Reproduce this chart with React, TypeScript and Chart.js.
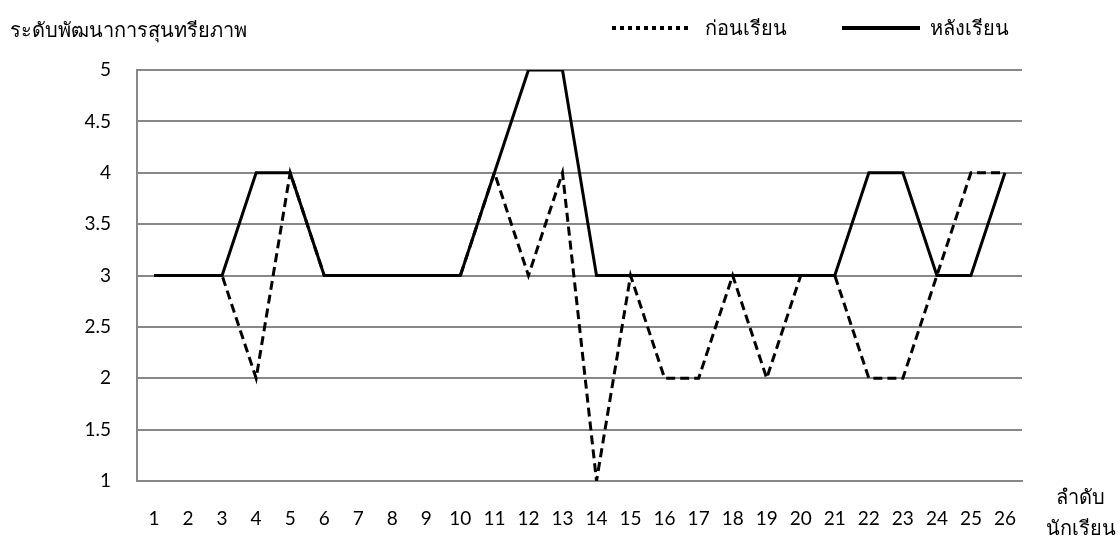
import React, { useEffect, useRef } from "react";
import { Chart, registerables } from "chart.js";

Chart.register(...registerables);

const students = ["1","2","3","4","5","6","7","8","9","10","11","12","13","14","15","16","17","18","19","20","21","22","23","24","25","26"];
const before = [3,3,3,2,4,3,3,3,3,3,4,3,4,1,3,2,2,3,2,3,3,2,2,3,4,4];
const after = [3,3,3,4,4,3,3,3,3,3,4,5,5,3,3,3,3,3,3,3,3,4,4,3,3,4];
const yTicks = [1,1.5,2,2.5,3,3.5,4,4.5,5];

const yTitle = "ระดับพัฒนาการสุนทรียภาพ";
const xTitle1 = "ลำดับ";
const xTitle2 = "นักเรียน";
const legendBefore = "ก่อนเรียน";
const legendAfter = "หลังเรียน";

const numFont = "Lato, 'Open Sans', sans-serif";
const thaiFont = "'Noto Sans', 'DejaVu Sans', sans-serif";

export default function App() {
  const ref = useRef<HTMLCanvasElement>(null);
  useEffect(() => {
    document.body.style.margin = "0";
    const ctx = ref.current!;
    const chart = new Chart(ctx, {
      type: "line",
      data: {
        labels: students,
        datasets: [
          {
            label: legendAfter,
            data: after,
            borderColor: "#000",
            borderWidth: 3,
            pointRadius: 0,
            tension: 0,
            fill: false,
          },
          {
            label: legendBefore,
            data: before,
            borderColor: "#000",
            borderWidth: 3,
            borderDash: [9, 5],
            pointRadius: 0,
            tension: 0,
            fill: false,
          },
        ],
      },
      options: {
        animation: false,
        responsive: false,
        devicePixelRatio: 1,
        layout: { padding: { top: 70, right: 98, left: 0, bottom: 0 } },
        plugins: { legend: { display: false }, tooltip: { enabled: false } },
        scales: {
          x: {
            offset: true,
            grid: { display: false, drawTicks: false },
            border: { display: true, color: "#888", width: 2 },
            ticks: {
              color: "#000",
              font: { family: numFont, size: 19 },
              padding: 26,
              maxRotation: 0,
              autoSkip: false,
            },
            afterFit: (s: any) => { s.height = 74; },
          },
          y: {
            min: 1,
            max: 5,
            afterBuildTicks: (s: any) => { s.ticks = yTicks.map((v) => ({ value: v })); },
            grid: { color: "#888", lineWidth: 2, drawTicks: false },
            border: { display: true, color: "#888", width: 2 },
            ticks: {
              color: "#000",
              font: { family: numFont, size: 19 },
              padding: 26,
              callback: (v: any) => String(Number(v)),
            },
            afterFit: (s: any) => { s.width = 137; },
          },
        },
      },
    });
    return () => chart.destroy();
  }, []);

  const textStyle: React.CSSProperties = {
    position: "absolute",
    fontFamily: thaiFont,
    fontSize: 20,
    color: "#000",
    whiteSpace: "nowrap",
    lineHeight: "1",
  };

  return (
    <div style={{ position: "fixed", left: 0, top: 0, width: 1120, height: 555, background: "#fff" }}>
      <canvas ref={ref} width={1120} height={555} style={{ width: 1120, height: 555, display: "block" }} />
      <div style={{ ...textStyle, left: 10, top: 20 }}>{yTitle}</div>
      <div
        style={{
          position: "absolute",
          left: 612,
          top: 26,
          width: 76,
          height: 4,
          background: "repeating-linear-gradient(90deg, #000 0 4px, transparent 4px 8px)",
        }}
      />
      <div style={{ ...textStyle, left: 705, top: 18 }}>{legendBefore}</div>
      <div style={{ position: "absolute", left: 842, top: 26, width: 78, height: 4, background: "#000" }} />
      <div style={{ ...textStyle, left: 930, top: 18 }}>{legendAfter}</div>
      <div style={{ ...textStyle, left: 1056, top: 487 }}>{xTitle1}</div>
      <div style={{ ...textStyle, left: 1046, top: 518 }}>{xTitle2}</div>
    </div>
  );
}
